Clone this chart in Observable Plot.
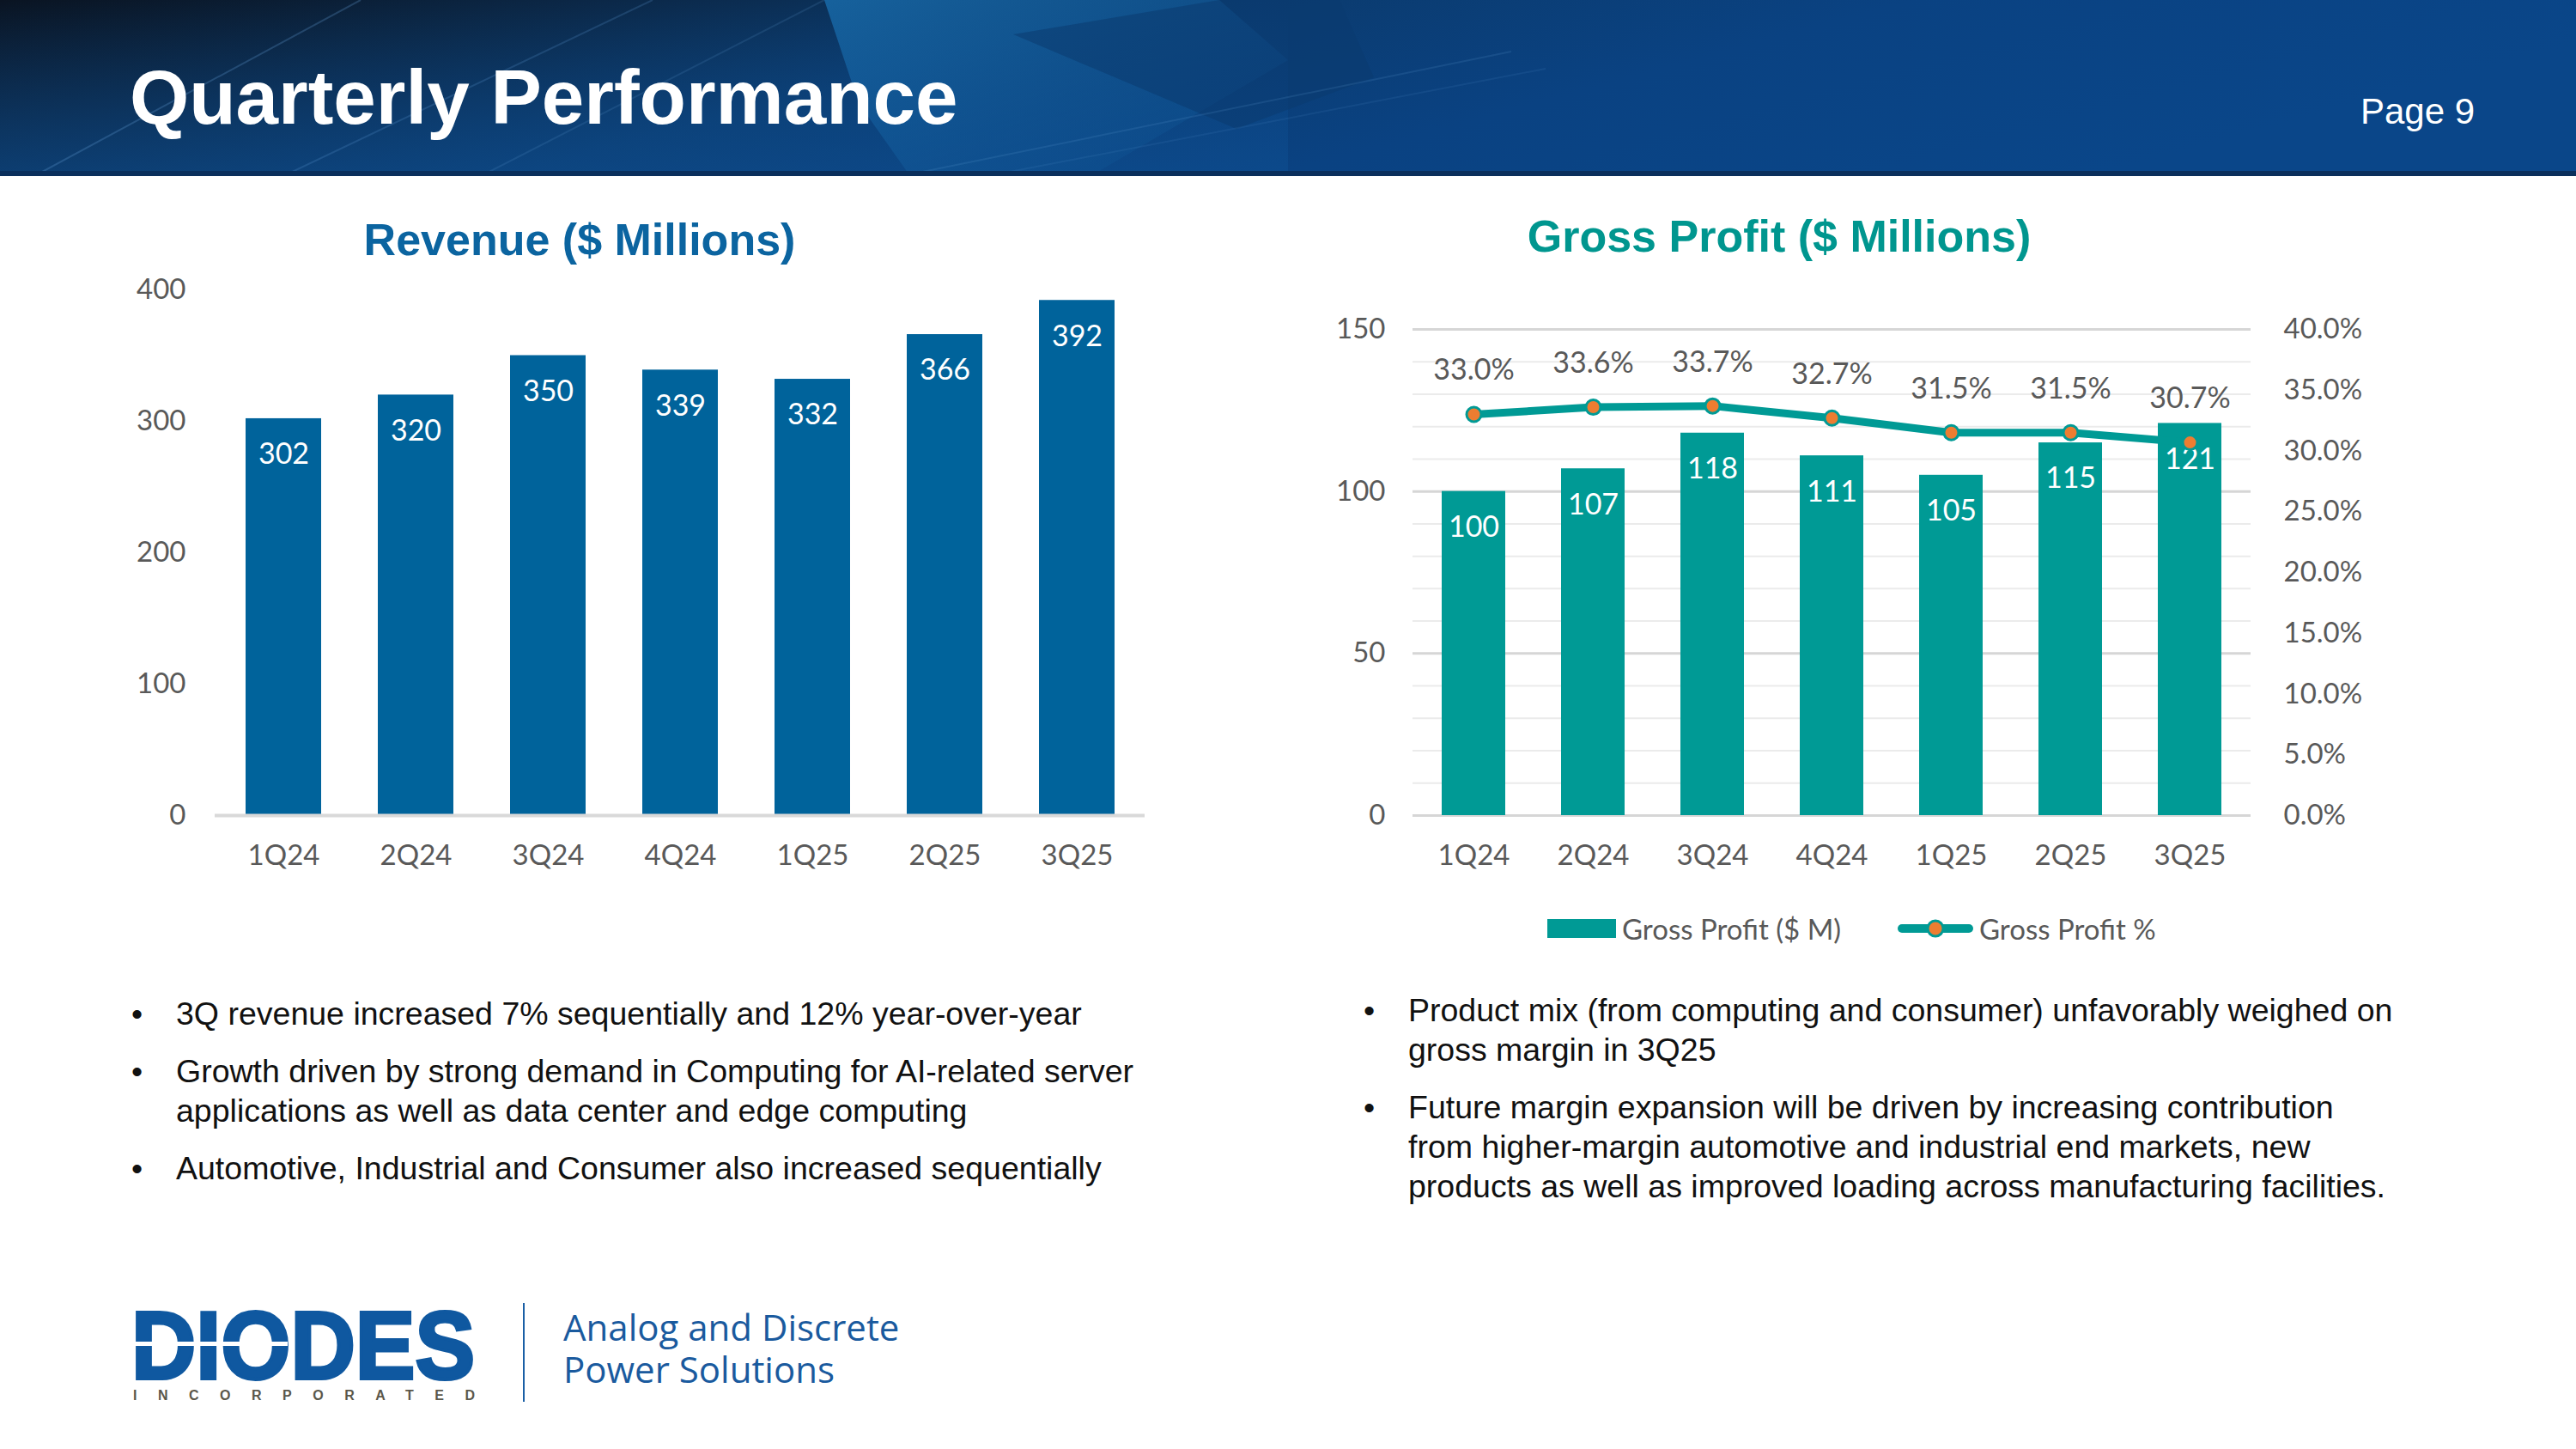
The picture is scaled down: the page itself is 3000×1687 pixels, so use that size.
<!DOCTYPE html>
<html>
<head>
<meta charset="utf-8">
<script src="https://cdn.jsdelivr.net/npm/d3@7"></script>
<script src="https://cdn.jsdelivr.net/npm/@observablehq/plot@0.6"></script>
<style>
  html, body { margin: 0; padding: 0; background: #ffffff; }
  body { width: 3000px; height: 1687px; position: relative; overflow: hidden;
         font-family: "Liberation Sans", Arial, sans-serif; }
  .abs { position: absolute; }
  .chart-title { position: absolute; font-weight: bold; font-size: 52px; line-height: 1;
                 white-space: nowrap; transform: translateX(-50%); }
  .bullets { position: absolute; font-size: 37.5px; line-height: 46px; color: #111111; }
  .bullets p { position: relative; margin: 0 0 21px 0; white-space: nowrap; }
  .bullets p::before { content: "\2022"; position: absolute; left: -52px; }
  .legend { position: absolute; font-family: Lato, sans-serif; font-size: 33px; color: #595959;
            white-space: nowrap; line-height: 1; }
  .tagline { position: absolute; left: 656px; top: 1520px; font-family: "Open Sans", sans-serif;
             font-size: 42px; line-height: 49px; color: #1a5a9e; white-space: nowrap; }
</style>
</head>
<body>

<!-- page banner -->
<svg class="abs" style="left:0;top:0" width="3000" height="205">
  <defs>
    <linearGradient id="bannerBase" x1="0" y1="0" x2="1" y2="0.25">
      <stop offset="0" stop-color="#0a1422"/>
      <stop offset="0.18" stop-color="#0b2440"/>
      <stop offset="0.42" stop-color="#0b3a6c"/>
      <stop offset="0.7" stop-color="#0a4282"/>
      <stop offset="1" stop-color="#0a4689"/>
    </linearGradient>
    <linearGradient id="bannerLift" x1="0" y1="0" x2="0" y2="1">
      <stop offset="0" stop-color="#0e4f92" stop-opacity="0"/>
      <stop offset="1" stop-color="#0e4f92" stop-opacity="0.55"/>
    </linearGradient>
    <linearGradient id="panel" x1="0" y1="0" x2="1" y2="1">
      <stop offset="0" stop-color="#1a72b4" stop-opacity="0.75"/>
      <stop offset="1" stop-color="#0d4f8e" stop-opacity="0.2"/>
    </linearGradient>
  </defs>
  <rect width="3000" height="205" fill="url(#bannerBase)"/>
  <rect width="1500" height="205" fill="url(#bannerLift)"/>
  <polygon points="960,0 1420,0 1500,70 1270,205 1060,205 1000,120" fill="url(#panel)"/>
  <polygon points="1180,40 1420,0 1560,0 1600,90 1440,150" fill="#0b3b70" opacity="0.55"/>
  <g stroke="#6aa6e0" stroke-width="2" fill="none">
    <line x1="40" y1="205" x2="420" y2="0" opacity="0.25"/>
    <line x1="330" y1="205" x2="760" y2="0" opacity="0.2"/>
    <line x1="560" y1="205" x2="960" y2="0" opacity="0.15"/>
    <line x1="1050" y1="205" x2="1760" y2="60" opacity="0.15"/>
    <line x1="1150" y1="205" x2="1800" y2="80" opacity="0.1"/>
  </g>
  <rect y="199" width="3000" height="6" fill="#0a2f5c"/>
  <text x="151" y="144" fill="#ffffff" font-family="Liberation Sans, Arial, sans-serif"
        font-weight="bold" font-size="89">Quarterly Performance</text>
  <text x="2749" y="144" fill="#ffffff" font-family="Liberation Sans, Arial, sans-serif"
        font-size="42">Page 9</text>
</svg>

<div class="chart-title" style="left:675px;top:253px;color:#0b64a0">Revenue ($ Millions)</div>
<div class="chart-title" style="left:2072px;top:249px;color:#00968f">Gross Profit ($ Millions)</div>

<div id="revenueChart" class="abs" style="left:100px;top:300px;width:1300px;height:760px"></div>
<div id="profitChart" class="abs" style="left:1500px;top:300px;width:1300px;height:760px"></div>

<!-- legend for the gross profit chart -->
<svg class="abs" style="left:1790px;top:1056px" width="520" height="50">
  <rect x="12" y="14" width="80" height="22" fill="#009a95"/>
  <line x1="425" y1="25" x2="503" y2="25" stroke="#009a95" stroke-width="10" stroke-linecap="round"/>
  <circle cx="464" cy="25" r="9" fill="#ed7d31" stroke="#009a95" stroke-width="3"/>
</svg>
<div class="legend" style="left:1889px;top:1065px">Gross Profit ($ M)</div>
<div class="legend" style="left:2305px;top:1065px">Gross Profit %</div>

<div class="bullets" style="left:205px;top:1157px">
  <p>3Q revenue increased 7% sequentially and 12% year-over-year</p>
  <p>Growth driven by strong demand in Computing for AI-related server<br>applications as well as data center and edge computing</p>
  <p>Automotive, Industrial and Consumer also increased sequentially</p>
</div>
<div class="bullets" style="left:1640px;top:1153px">
  <p>Product mix (from computing and consumer) unfavorably weighed on<br>gross margin in 3Q25</p>
  <p>Future margin expansion will be driven by increasing contribution<br>from higher-margin automotive and industrial end markets, new<br>products as well as improved loading across manufacturing facilities.</p>
</div>

<!-- company logo -->
<svg class="abs" style="left:0;top:1480px" width="1100" height="180">
  <g transform="translate(0,-1480)">
    <text font-family="Liberation Sans, Arial, sans-serif" font-weight="bold">
      <tspan x="153" y="1605" font-size="112" fill="#0f58a0" stroke="#0f58a0" stroke-width="4"
             textLength="400" lengthAdjust="spacingAndGlyphs">DIODES</tspan>
      <tspan x="155" y="1630" font-size="16" fill="#5b574a" stroke="none"
             letter-spacing="24.5">INCORPORATED</tspan>
    </text>
    <rect x="150" y="1562" width="185" height="5" fill="#ffffff"/>
    <line x1="610" y1="1517" x2="610" y2="1632" stroke="#1a5fa5" stroke-width="2"/>
  </g>
</svg>
<div class="tagline">Analog and Discrete<br>Power Solutions</div>

<script>
// Quarterly figures
const quarters = ["1Q24", "2Q24", "3Q24", "4Q24", "1Q25", "2Q25", "3Q25"];
const revenue = [302, 320, 350, 339, 332, 366, 392];          // $ millions
const grossProfit = [100, 107, 118, 111, 105, 115, 121];      // $ millions
const grossMarginPct = [33.0, 33.6, 33.7, 32.7, 31.5, 31.5, 30.7]; // percent
const revenueTicks = [0, 100, 200, 300, 400];
const profitTicks = [0, 50, 100, 150];
const marginTicks = [0, 5, 10, 15, 20, 25, 30, 35, 40];

const REV_BLUE = "#00639b";
const TEAL = "#009a95";
const ORANGE = "#ed7d31";
const AXIS_GRAY = "#595959";

const baseStyle = {
  fontFamily: "Lato, sans-serif",
  fontSize: "33px",
  color: AXIS_GRAY,
  background: "transparent",
  overflow: "visible"
};

// ---- Revenue bars ----
const revData = quarters.map((q, i) => ({q, v: revenue[i]}));
const revPlot = Plot.plot({
  width: 1300, height: 760,
  marginLeft: 150, marginRight: 67, marginTop: 37, marginBottom: 111,
  style: baseStyle,
  x: {domain: quarters, paddingInner: 0.43, paddingOuter: 0.215, label: null},
  y: {domain: [0, 400], label: null},
  marks: [
    Plot.barY(revData, {x: "q", y: "v", fill: REV_BLUE}),
    Plot.ruleY([0], {stroke: "#d9d9d9", strokeWidth: 4}),
    Plot.text(revData, {x: "q", y: "v", text: d => String(d.v), dy: 42,
                        fill: "#ffffff", fontSize: 34}),
    Plot.axisY({ticks: revenueTicks, tickSize: 0, tickPadding: 34, label: null}),
    Plot.axisX({tickSize: 0, tickPadding: 34, label: null})
  ]
});
document.getElementById("revenueChart").append(revPlot);

// ---- Gross profit bars with margin line on a second axis ----
const gpData = quarters.map((q, i) => ({q, v: grossProfit[i], m: grossMarginPct[i]}));
const frame = {
  width: 1300, height: 760,
  marginLeft: 145, marginRight: 179, marginTop: 83, marginBottom: 111,
  style: baseStyle
};
const gpX = {domain: quarters, paddingInner: 0.47, paddingOuter: 0.235, label: null};
const minorGrid = d3.range(10, 150, 10).filter(d => d % 50 !== 0);

const gpPlot = Plot.plot({
  ...frame,
  x: gpX,
  y: {domain: [0, 150], label: null},
  marks: [
    Plot.ruleY(minorGrid, {stroke: "#ebebeb", strokeWidth: 2}),
    Plot.ruleY(profitTicks, {stroke: "#d6d6d6", strokeWidth: 3}),
    Plot.barY(gpData, {x: "q", y: "v", fill: TEAL}),
    Plot.text(gpData, {x: "q", y: "v", text: d => String(d.v), dy: 42,
                       fill: "#ffffff", fontSize: 34}),
    Plot.axisY({ticks: profitTicks, tickSize: 0, tickPadding: 32, label: null}),
    Plot.axisX({tickSize: 0, tickPadding: 34, label: null})
  ]
});

// margin percentages share the band positions but use their own 0–40% axis
const marginPlot = Plot.plot({
  ...frame,
  x: {...gpX, axis: null},
  y: {domain: [0, 40], label: null},
  marks: [
    Plot.line(gpData, {x: "q", y: "m", stroke: TEAL, strokeWidth: 9, strokeLinejoin: "round"}),
    Plot.dot(gpData, {x: "q", y: "m", r: 8.5, fill: ORANGE, stroke: TEAL, strokeWidth: 3}),
    Plot.text(gpData, {x: "q", y: "m", text: d => d.m.toFixed(1) + "%", dy: -51,
                       fill: AXIS_GRAY, fontSize: 34}),
    Plot.axisY({anchor: "right", ticks: marginTicks, tickFormat: d => d.toFixed(1) + "%",
                tickSize: 0, tickPadding: 38, label: null})
  ]
});

const gpHost = document.getElementById("profitChart");
gpHost.append(gpPlot);
gpHost.append(marginPlot);
for (const svg of [gpPlot, marginPlot]) {
  svg.style.position = "absolute";
  svg.style.left = "0px";
  svg.style.top = "0px";
}
</script>
</body>
</html>
